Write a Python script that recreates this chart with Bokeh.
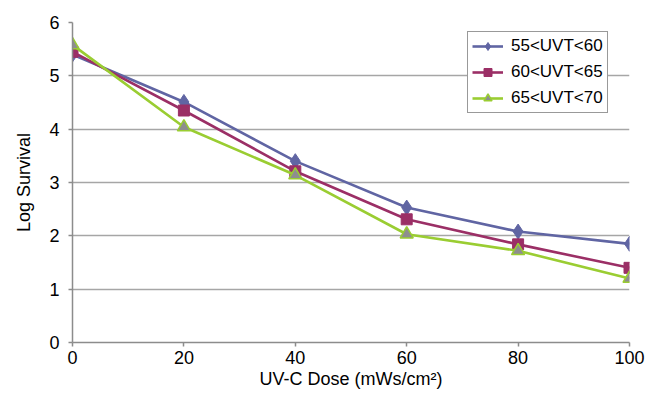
from bokeh.plotting import figure
from bokeh.models import Legend, LegendItem, FixedTicker, Range1d
from bokeh.embed import file_html
from bokeh.resources import INLINE

dose = [0, 20, 40, 60, 80, 100]
uvt_55_60 = [5.40, 4.51, 3.40, 2.53, 2.08, 1.85]
uvt_60_65 = [5.45, 4.35, 3.21, 2.31, 1.84, 1.40]
uvt_65_70 = [5.58, 4.04, 3.14, 2.03, 1.72, 1.20]
labels = ["55<UVT<60", "60<UVT<65", "65<UVT<70"]
x_ticks = [0, 20, 40, 60, 80, 100]
y_ticks = [0, 1, 2, 3, 4, 5, 6]

FONT = "Liberation Sans"

p = figure(width=649, height=394, output_backend="svg", toolbar_location=None,
           x_range=Range1d(0, 100), y_range=Range1d(0, 6),
           min_border_left=72, min_border_right=20, min_border_top=22, min_border_bottom=52)
p.outline_line_color = None
p.background_fill_color = "white"
p.border_fill_color = "white"

p.xgrid.visible = False
p.ygrid.grid_line_color = "#a6a6a6"
p.ygrid.grid_line_width = 1.6
p.ygrid.ticker = FixedTicker(ticks=y_ticks)

for ax in (p.xaxis[0], p.yaxis[0]):
    ax.axis_line_color = "#8c8c8c"
    ax.axis_line_width = 1.5
    ax.major_tick_line_color = "#8c8c8c"
    ax.major_tick_line_width = 1.5
    ax.major_tick_out = 4
    ax.major_tick_in = 0
    ax.minor_tick_line_color = None
    ax.major_label_text_font = FONT
    ax.major_label_text_font_size = "18px"
    ax.major_label_text_color = "black"
    ax.axis_label_text_font = FONT
    ax.axis_label_text_font_size = "18px"
    ax.axis_label_text_font_style = "normal"
    ax.axis_label_text_color = "black"

p.xaxis.ticker = FixedTicker(ticks=x_ticks)
p.yaxis.ticker = FixedTicker(ticks=y_ticks)
p.xaxis.axis_label = "UV-C Dose (mWs/cm²)"
p.yaxis.axis_label = "Log Survival"
p.xaxis.major_label_standoff = 4
p.yaxis.major_label_standoff = 9
p.xaxis.axis_label_standoff = 2
p.yaxis.axis_label_standoff = 12

blue = "#6065a3"
mag = "#9b2f66"
green = "#9acd32"
gray = "#8e8e8e"

l1 = p.line(dose, uvt_55_60, line_color=blue, line_width=2.6)
s1 = p.scatter(dose, uvt_55_60, marker="diamond", size=15, fill_color=blue, line_color=blue)
l2 = p.line(dose, uvt_60_65, line_color=mag, line_width=2.6)
s2 = p.scatter(dose, uvt_60_65, marker="square", size=11, fill_color=mag, line_color=mag)
l3 = p.line(dose, uvt_65_70, line_color=green, line_width=2.6)
s3 = p.scatter(dose, uvt_65_70, marker="triangle", size=13, fill_color=gray, line_color=green, line_width=1.5)

legend = Legend(items=[LegendItem(label=labels[0], renderers=[l1, s1]),
                       LegendItem(label=labels[1], renderers=[l2, s2]),
                       LegendItem(label=labels[2], renderers=[l3, s3])],
                location=(395, 229))
legend.label_text_font = FONT
legend.label_text_font_size = "17px"
legend.label_text_color = "black"
legend.glyph_width = 31
legend.glyph_height = 20
legend.spacing = 6
legend.padding = 4
legend.margin = 0
legend.label_standoff = 8
legend.border_line_color = "#333333"
legend.border_line_width = 1.2
legend.background_fill_color = "white"
legend.background_fill_alpha = 1.0
p.add_layout(legend, "center")

open("out.html", "w").write(file_html(p, INLINE))
